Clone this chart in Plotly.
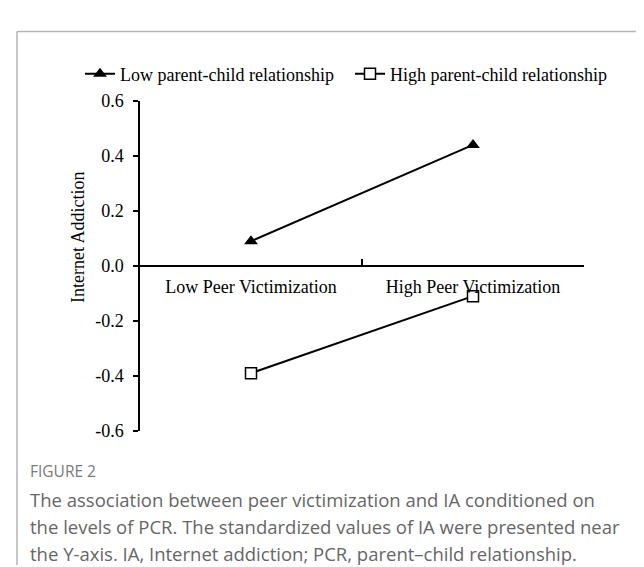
import plotly.graph_objects as go

categories = ["Low Peer Victimization", "High Peer Victimization"]
low_pcr = [0.09, 0.44]
high_pcr = [-0.39, -0.11]
series_names = ["Low parent-child relationship", "High parent-child relationship"]
y_ticks = [-0.6, -0.4, -0.2, 0.0, 0.2, 0.4, 0.6]
y_tick_labels = ["-0.6", "-0.4", "-0.2", "0.0", "0.2", "0.4", "0.6"]
y_title = "Internet Addiction"
fig_label = "FIGURE 2"
caption_lines = [
    "The association between peer victimization and IA conditioned on",
    "the levels of PCR. The standardized values of IA were presented near",
    "the Y-axis. IA, Internet addiction; PCR, parent\u2013child relationship.",
]

W, H = 644, 567
serif = "Liberation Serif, Times New Roman, serif"
sans = "Open Sans, Lato, sans-serif"

def px_x(v):
    return v / W

def px_y(v):
    return 1 - v / H

ydom = [px_y(428), px_y(86)]
xdom = [px_x(132), px_x(576)]

fig = go.Figure()
fig.add_trace(go.Scatter(
    x=categories, y=low_pcr, name=series_names[0], mode="lines+markers",
    line=dict(color="black", width=2),
    marker=dict(symbol="triangle-up", size=12, color="black"),
))
fig.add_trace(go.Scatter(
    x=categories, y=high_pcr, name=series_names[1], mode="lines+markers",
    line=dict(color="black", width=2),
    marker=dict(symbol="square", size=11, color="white", line=dict(color="black", width=1.5)),
))

fig.update_layout(
    width=W, height=H,
    margin=dict(l=0, r=0, t=0, b=0),
    paper_bgcolor="white", plot_bgcolor="white",
    showlegend=True,
    legend=dict(
        orientation="h", x=px_x(72), y=px_y(58), xanchor="left", yanchor="middle",
        font=dict(family=serif, size=18, color="black"),
        itemwidth=30, entrywidth=225, entrywidthmode="pixels",
        bgcolor="rgba(0,0,0,0)", tracegroupgap=0,
    ),
    xaxis=dict(
        domain=xdom, type="category", range=[-0.5, 1.5],
        anchor="free", position=(ydom[0] + ydom[1]) / 2,
        showline=True, linecolor="black", linewidth=1.5,
        ticks="inside", ticklen=6, tickwidth=1.5, tickcolor="black",
        tickson="boundaries", showgrid=False, zeroline=False,
        tickfont=dict(family=serif, size=18, color="black"),
        ticklabelstandoff=5,
    ),
    yaxis=dict(
        domain=ydom, range=[-0.6, 0.6],
        tickvals=y_ticks, ticktext=y_tick_labels,
        showline=True, linecolor="black", linewidth=1.5,
        ticks="outside", ticklen=5, tickwidth=1.5, tickcolor="black",
        showgrid=False, zeroline=False,
        tickfont=dict(family=serif, size=18, color="black"),
        ticklabelstandoff=6,
    ),
)

# frame lines
fig.add_shape(type="line", xref="paper", yref="paper", x0=px_x(9), x1=1, y0=px_y(14), y1=px_y(14),
              line=dict(color="#b5b5b5", width=1.5))
fig.add_shape(type="line", xref="paper", yref="paper", x0=px_x(9), x1=px_x(9), y0=px_y(14), y1=0,
              line=dict(color="#b5b5b5", width=1.5))

fig.add_annotation(text=y_title, xref="paper", yref="paper", x=px_x(70), y=px_y(228),
                   showarrow=False, textangle=-90, xanchor="center", yanchor="middle",
                   font=dict(family=serif, size=18, color="black"))

fig.add_annotation(text=fig_label, xref="paper", yref="paper", x=px_x(20), y=px_y(470),
                   showarrow=False, xanchor="left", yanchor="middle",
                   font=dict(family=sans, size=15.5, color="#7a7a7a"))
for i, line in enumerate(caption_lines):
    fig.add_annotation(text=line, xref="paper", yref="paper", x=px_x(20), y=px_y(499 + 28 * i),
                       showarrow=False, xanchor="left", yanchor="middle", align="left",
                       font=dict(family=sans, size=18.5, color="#666666"))

fig.write_html("out.html")
